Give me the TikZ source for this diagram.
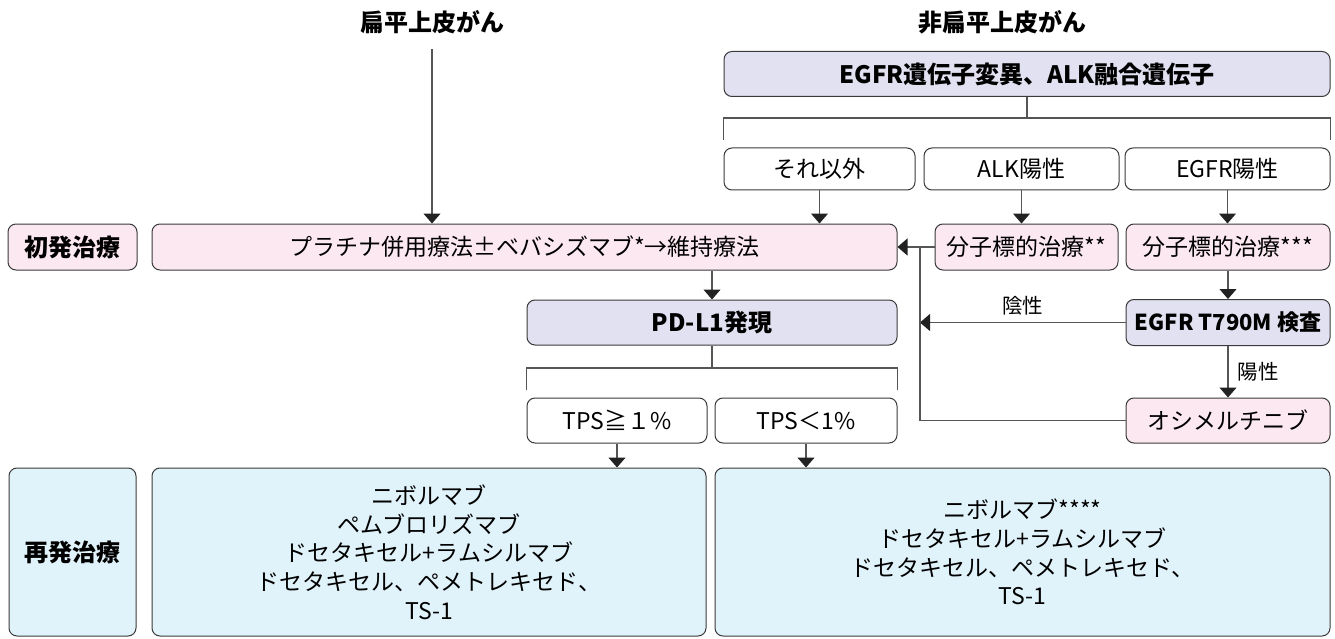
\documentclass[tikz,border=0pt]{standalone}
\usepackage{fontspec}
\setmainfont{Noto Sans CJK JP}
\usetikzlibrary{arrows.meta}

\definecolor{pinkfill}{HTML}{FCE8F1}
\definecolor{lavfill}{HTML}{E1E1F1}
\definecolor{bluefill}{HTML}{E1F3FA}
\definecolor{edgegray}{HTML}{3A3A3A}
\definecolor{wiregray}{HTML}{555555}
\definecolor{tipgray}{HTML}{222222}

\begin{document}
\begin{tikzpicture}[x=1pt,y=-1pt,
	box/.style={draw=edgegray, fill=white, line width=1pt, rounded corners=8pt, inner sep=0pt, minimum height=46pt, font=\fontsize{23}{27}\selectfont},
	pinkbox/.style={box, fill=pinkfill},
	lavbox/.style={box, fill=lavfill, font=\fontsize{24}{28}\selectfont\bfseries},
	bluebox/.style={box, fill=bluefill, minimum height=168pt, align=center, font=\fontsize{23}{28.7}\selectfont},
	headfont/.style={font=\fontsize{24}{28}\selectfont\bfseries},
	tagfont/.style={font=\fontsize{20.5}{24}\selectfont},
	arr/.style={draw=wiregray, line width=1.1pt, -{Triangle[width=17pt,length=10pt,color=tipgray]}},
	wire/.style={draw=wiregray, line width=1.1pt}]
	\useasboundingbox (0,0) rectangle (1335,639);

	\node[headfont] (sq) at (432,22) {扁平上皮がん};
	\node[headfont] (nsq) at (1002,22) {非扁平上皮がん};

	\node[lavbox, minimum width=606pt, minimum height=45pt] (gene) at (1027,74) {EGFR遺伝子変異、ALK融合遺伝子};
	\node[box, minimum width=191pt, minimum height=42pt] (other) at (819.5,169) {それ以外};
	\node[box, minimum width=195pt, minimum height=42pt] (alk) at (1021.5,169) {ALK陽性};
	\node[box, minimum width=205pt, minimum height=42pt] (egfr) at (1227.5,169) {EGFR陽性};

	\node[pinkbox, headfont, minimum width=129pt] (first) at (72.5,247) {初発治療};
	\node[pinkbox, minimum width=745pt] (plat) at (524.5,247) {プラチナ併用療法±ベバシズマブ*→維持療法};
	\node[pinkbox, minimum width=183pt] (tgtA) at (1026.5,247) {分子標的治療**};
	\node[pinkbox, minimum width=204pt] (tgtE) at (1228,247) {分子標的治療***};

	\node[lavbox, minimum width=370pt, minimum height=45pt] (pdl) at (712,322.5) {PD-L1発現};
	\node[lavbox, font=\fontsize{22}{26}\selectfont\bfseries, minimum width=204pt] (t790) at (1228,322.5) {EGFR T790M 検査};

	\node[box, minimum width=180pt, minimum height=45pt] (tpsH) at (617,420.5) {TPS≧１\%};
	\node[box, minimum width=182pt, minimum height=45pt] (tpsL) at (806,420.5) {TPS＜1\%};
	\node[pinkbox, minimum width=204pt, minimum height=45pt] (osi) at (1228,420.5) {オシメルチニブ};

	\node[bluebox, headfont, minimum width=127pt] (relapse) at (72.5,552) {再発治療};
	\node[bluebox, minimum width=554pt] (regL) at (429,552) {ニボルマブ\\ペムブロリズマブ\\ドセタキセル+ラムシルマブ\\ドセタキセル、ペメトレキセド、\\TS-1};
	\node[bluebox, minimum width=615pt] (regR) at (1022.5,552) {ニボルマブ****\\ドセタキセル+ラムシルマブ\\ドセタキセル、ペメトレキセド、\\TS-1};

	% squamous
	\draw[arr, shorten <=12pt] (sq) -- (sq |- plat.north);
	% driver genes
	\draw[wire] (gene) -- (gene.south |- 0,118);
	\draw[wire] (other.west |- 0,140) -- (other.west |- 0,118) -- (egfr.east |- 0,118) -- (egfr.east |- 0,140);
	\draw[arr] (other) -- (other |- plat.north);
	\draw[arr] (alk) -- (alk |- tgtA.north);
	\draw[arr] (egfr) -- (egfr |- tgtE.north);
	\draw[arr] (tgtA) -- (plat);
	% T790M
	\coordinate (join) at (920,322.5);
	\draw[arr] (tgtE) -- (t790);
	\draw[arr] (t790) -- node[above=3pt, tagfont] {陰性} (join);
	\draw[arr] (t790) -- node[right=6pt, tagfont] {陽性} (osi);
	\draw[wire] (osi) -- (join |- osi) -- (join |- plat);
	% PD-L1
	\draw[arr] (pdl |- plat.south) -- (pdl);
	\draw[wire] (pdl) -- (pdl |- 0,368);
	\draw[wire] (tpsH.west |- 0,390) -- (tpsH.west |- 0,368) -- (tpsL.east |- 0,368) -- (tpsL.east |- 0,390);
	\draw[arr] (tpsH) -- (tpsH |- regL.north);
	\draw[arr] (tpsL) -- (tpsL |- regR.north);
\end{tikzpicture}
\end{document}
